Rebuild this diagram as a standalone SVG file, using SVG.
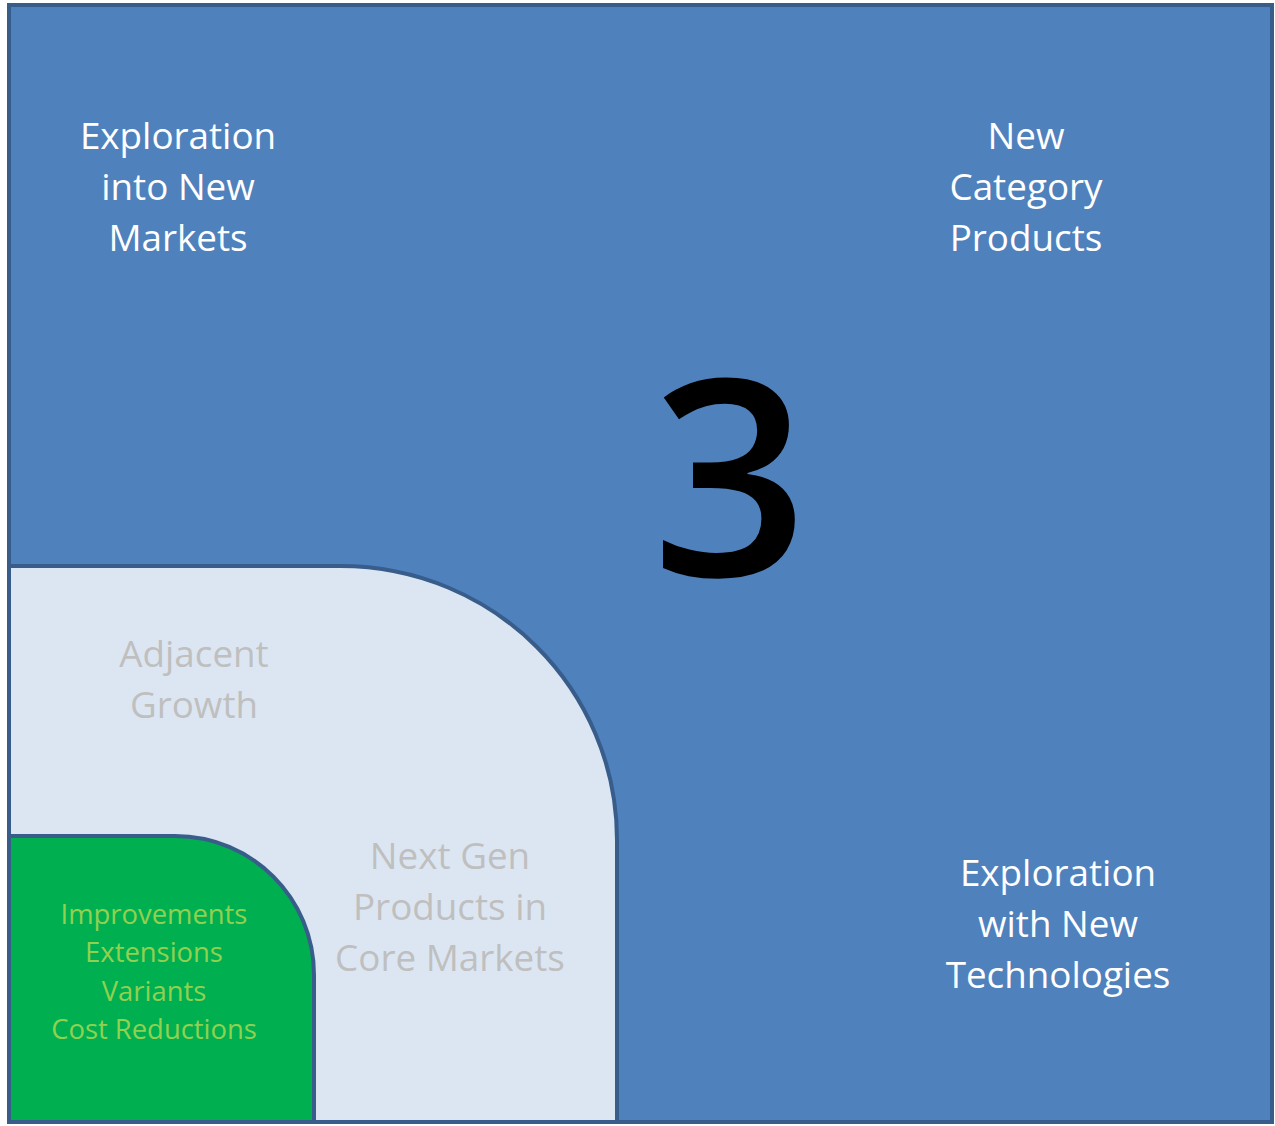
<svg xmlns="http://www.w3.org/2000/svg" width="1275" height="1126" viewBox="0 0 1275 1126">
<style>
.t{font-family:"Open Sans","Noto Sans","Liberation Sans",sans-serif;text-anchor:middle}
.w{fill:#ffffff;font-size:36.8px}
.g{fill:#bfbfbf;font-size:36.8px}
.gr{fill:#92d050;font-size:27.4px}
.edge{stroke:#385d8a;stroke-width:4}
</style>
<rect width="1275" height="1126" fill="#ffffff"/>
<g id="outer">
<rect class="edge" x="9" y="5" width="1263" height="1117" fill="#4f81bd"/>
<g class="t w">
<text x="178" y="149">Exploration</text>
<text x="178" y="200">into New</text>
<text x="178" y="251">Markets</text>
<text x="1026" y="149">New</text>
<text x="1026" y="200">Category</text>
<text x="1026" y="251">Products</text>
<text x="1058" y="886">Exploration</text>
<text x="1058" y="937">with New</text>
<text x="1058" y="988">Technologies</text>
</g>
<text class="t" x="730" y="576" font-size="274" font-weight="600" fill="#000000">3</text>
</g>
<g id="adjacent">
<path class="edge" d="M9,566 L340,566 C495,566 617,690 617,840 L617,1122 L9,1122 Z" fill="#dce6f2"/>
<g class="t g">
<text x="194" y="667">Adjacent</text>
<text x="194" y="718">Growth</text>
<text x="450" y="869">Next Gen</text>
<text x="450" y="920">Products in</text>
<text x="450" y="971">Core Markets</text>
</g>
</g>
<g id="core">
<path class="edge" d="M9,836 L175,836 C252,836 314,898 314,975 L314,1122 L9,1122 Z" fill="#00b050"/>
<g class="t gr">
<text x="154" y="924">Improvements</text>
<text x="154" y="962">Extensions</text>
<text x="154" y="1001">Variants</text>
<text x="154" y="1039">Cost Reductions</text>
</g>
</g>
<g id="connectors"/>
</svg>
